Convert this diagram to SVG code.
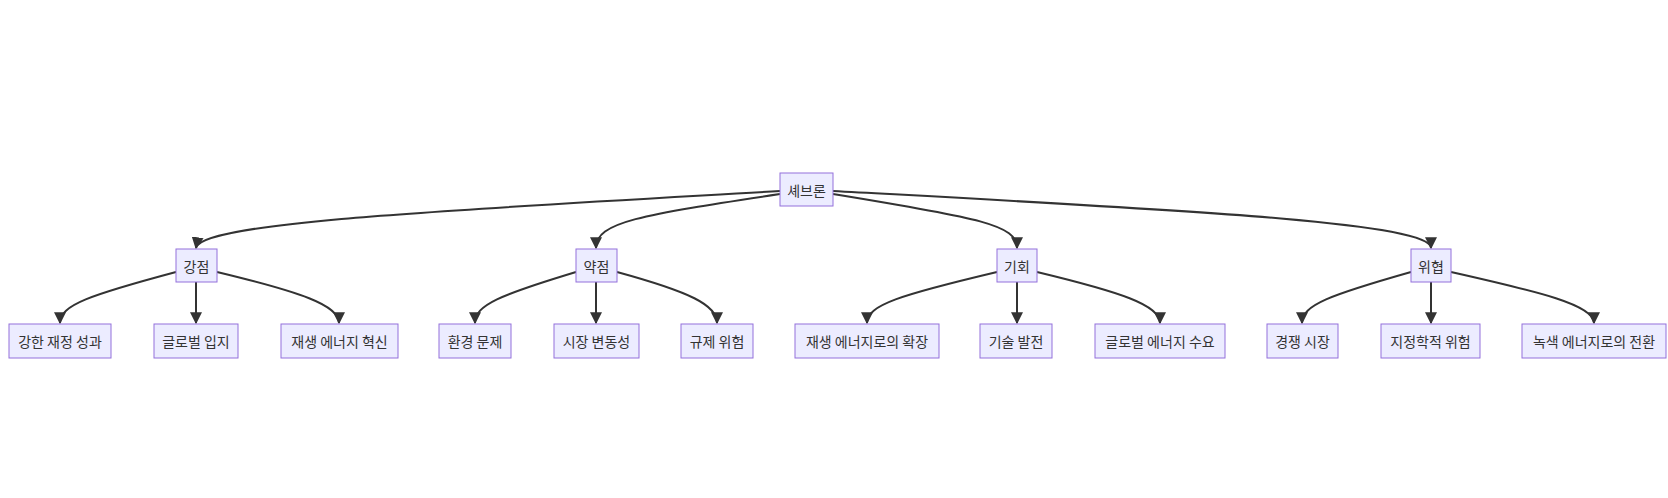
<svg xmlns="http://www.w3.org/2000/svg" width="1668" height="498" viewBox="0 0 1668 498">
<style>
.n rect{fill:#ECECFF;stroke:#9370DB;stroke-width:1}
.n text{font-family:"Noto Sans CJK KR","Noto Sans",sans-serif;font-size:14px;fill:#333;text-anchor:middle;dominant-baseline:central}
.e path{fill:none;stroke:#333;stroke-width:2;marker-end:url(#a)}
</style>
<defs><marker id="a" viewBox="0 0 10 10" refX="9" refY="5" markerWidth="6" markerHeight="6" orient="auto" markerUnits="strokeWidth"><path d="M0,0L10,5L0,10z" fill="#333"/></marker></defs>
<rect width="1668" height="498" fill="#fff"/>
<g class="e">
<path d="M780,191 C450,210 200,222 196,248"/>
<path d="M780,194 C640,215 596,222 596,248"/>
<path d="M833,194 C980,218 1017,225 1017,248"/>
<path d="M833,191 C1180,210 1431,222 1431,248"/>
<path d="M176,272 C90,295 60,305 60,323"/>
<path d="M196,282 L196,323"/>
<path d="M217,272 C300,292 339,305 339,323"/>
<path d="M576,272 C500,295 475,305 475,323"/>
<path d="M596,282 L596,323"/>
<path d="M617,272 C690,292 717,305 717,323"/>
<path d="M997,272 C900,295 867,305 867,323"/>
<path d="M1017,282 L1017,323"/>
<path d="M1037,272 C1120,292 1160,305 1160,323"/>
<path d="M1411,272 C1330,295 1302,305 1302,323"/>
<path d="M1431,282 L1431,323"/>
<path d="M1451,272 C1540,292 1594,305 1594,323"/>
</g>
<g id="root" class="n"><rect x="780" y="173" width="53" height="33"/><text x="806.5" y="189.5">셰브론</text></g>
<g id="s" class="n"><rect x="176" y="249" width="41" height="33"/><text x="196.5" y="265.5">강점</text></g>
<g id="w" class="n"><rect x="576" y="249" width="41" height="33"/><text x="596.5" y="265.5">약점</text></g>
<g id="o" class="n"><rect x="997" y="249" width="40" height="33"/><text x="1017" y="265.5">기회</text></g>
<g id="t" class="n"><rect x="1411" y="249" width="40" height="33"/><text x="1431" y="265.5">위협</text></g>
<g id="s1" class="n"><rect x="9" y="324" width="102" height="34"/><text x="60" y="341">강한 재정 성과</text></g>
<g id="s2" class="n"><rect x="154" y="324" width="84" height="34"/><text x="196" y="341">글로벌 입지</text></g>
<g id="s3" class="n"><rect x="281" y="324" width="117" height="34"/><text x="339.5" y="341">재생 에너지 혁신</text></g>
<g id="w1" class="n"><rect x="439" y="324" width="72" height="34"/><text x="475" y="341">환경 문제</text></g>
<g id="w2" class="n"><rect x="554" y="324" width="85" height="34"/><text x="596.5" y="341">시장 변동성</text></g>
<g id="w3" class="n"><rect x="681" y="324" width="72" height="34"/><text x="717" y="341">규제 위험</text></g>
<g id="o1" class="n"><rect x="795" y="324" width="144" height="34"/><text x="867" y="341">재생 에너지로의 확장</text></g>
<g id="o2" class="n"><rect x="980" y="324" width="72" height="34"/><text x="1016" y="341">기술 발전</text></g>
<g id="o3" class="n"><rect x="1095" y="324" width="130" height="34"/><text x="1160" y="341">글로벌 에너지 수요</text></g>
<g id="t1" class="n"><rect x="1267" y="324" width="71" height="34"/><text x="1302.5" y="341">경쟁 시장</text></g>
<g id="t2" class="n"><rect x="1381" y="324" width="99" height="34"/><text x="1430.5" y="341">지정학적 위험</text></g>
<g id="t3" class="n"><rect x="1522" y="324" width="144" height="34"/><text x="1594" y="341">녹색 에너지로의 전환</text></g>
</svg>
